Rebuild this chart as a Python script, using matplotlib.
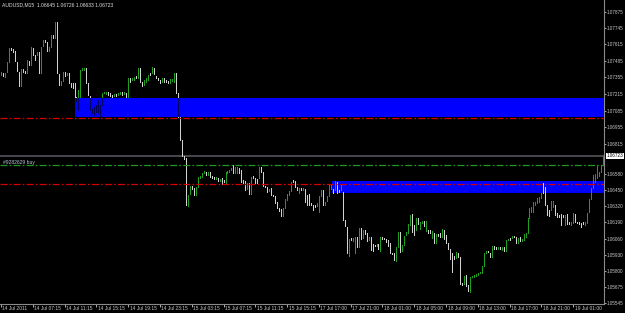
import numpy as np
import matplotlib
matplotlib.use("Agg")
import matplotlib.pyplot as plt
import matplotlib.transforms as mtransforms
from matplotlib.collections import LineCollection
from matplotlib.patches import Rectangle

plt.rcParams["font.family"] = ["Liberation Sans", "DejaVu Sans"]
plt.rcParams["lines.scale_dashes"] = False

# ---------------- data ----------------
chart_title = "AUDUSD,M15  1.06645 1.06726 1.06633 1.06723"

high = [
    1.07395, 1.07387, 1.07387, 1.07475, 1.07587, 1.07587, 1.07579, 1.07563, 1.07475, 1.07395,
    1.07419, 1.07419, 1.07403, 1.07491, 1.07483, 1.07595, 1.07587, 1.07531, 1.07555, 1.07555,
    1.07595, 1.07651, 1.07651, 1.07635, 1.07595, 1.07691, 1.07691, 1.07795, 1.07795, 1.07379,
    1.07323, 1.07395, 1.07395, 1.07387, 1.07387, 1.07307, 1.07307, 1.07307, 1.07195, 1.07251,
    1.07411, 1.07427, 1.07427, 1.07427, 1.07307, 1.07203, 1.07099, 1.07115, 1.07131, 1.07171,
    1.07131, 1.07227, 1.07235, 1.07235, 1.07235, 1.07227, 1.07211, 1.07219, 1.07219, 1.07227,
    1.07235, 1.07235, 1.07235, 1.07227, 1.07347, 1.07347, 1.07347, 1.07355, 1.07363, 1.07427,
    1.07427, 1.07315, 1.07331, 1.07347, 1.07371, 1.07387, 1.07435, 1.07427, 1.07363, 1.07347,
    1.07331, 1.07347, 1.07347, 1.07331, 1.07323, 1.07339, 1.07339, 1.07387, 1.07387, 1.07227,
    1.07035, 1.06851, 1.06723, 1.06707, 1.06411, 1.06483, 1.06483, 1.06467, 1.06475, 1.06555,
    1.06563, 1.06587, 1.06603, 1.06595, 1.06595, 1.06595, 1.06563, 1.06555, 1.06555,
    1.06547, 1.06539, 1.06547, 1.06531, 1.06595, 1.06603, 1.06611, 1.06627, 1.06651, 1.06635, 1.06635,
    1.06627, 1.06611, 1.06531, 1.06523, 1.06507, 1.06507, 1.06555, 1.06563, 1.06547, 1.06539,
    1.06635, 1.06635, 1.06595, 1.06483, 1.06475, 1.06459, 1.06467, 1.06411, 1.06403, 1.06355,
    1.06307, 1.06299, 1.06307, 1.06379, 1.06419, 1.06443, 1.06515, 1.06531, 1.06523, 1.06475,
    1.06467, 1.06467, 1.06467,
    1.06459, 1.06411, 1.06419, 1.06347, 1.06331, 1.06331, 1.06347, 1.06403, 1.06451, 1.06451,
    1.06355, 1.06403, 1.06491, 1.06491, 1.06459, 1.06523, 1.06515, 1.06451, 1.06491, 1.06435,
    1.06211, 1.06155, 1.06059, 1.06067, 1.06067, 1.06075, 1.06075, 1.06147, 1.06147, 1.06131,
    1.06131, 1.06107, 1.06075, 1.06075, 1.06019, 1.06011, 1.06019,
    1.06019, 1.06075, 1.06075, 1.06067, 1.06059, 1.06051, 1.06027, 1.05947, 1.05947, 1.05995,
    1.06115, 1.06115, 1.06011, 1.06083, 1.06115, 1.06179, 1.06251, 1.06259, 1.06171, 1.06227,
    1.06227, 1.06195, 1.06203, 1.06203, 1.06203, 1.06131, 1.06131, 1.06123, 1.06107, 1.06099,
    1.06099, 1.06107, 1.06139, 1.06131, 1.06091, 1.06027, 1.05979, 1.05947, 1.05923, 1.05955,
    1.05947, 1.05915, 1.05707, 1.05763, 1.05771, 1.05691, 1.05755, 1.05763, 1.05771, 1.05779,
    1.05787, 1.05795, 1.05843, 1.05947, 1.05963, 1.05963, 1.05947, 1.06003, 1.06003, 1.05995,
    1.05995, 1.05995, 1.05995, 1.05995, 1.06051, 1.06059, 1.06067, 1.06083, 1.06083, 1.06075,
    1.06067, 1.06075, 1.06059, 1.06099, 1.06107, 1.06227, 1.06307, 1.06315, 1.06355, 1.06355,
    1.06387, 1.06395, 1.06427, 1.06507, 1.06475, 1.06331, 1.06291, 1.06363, 1.06363, 1.06331,
    1.06267, 1.06251, 1.06259, 1.06251, 1.06251, 1.06259, 1.06195, 1.06195, 1.06267, 1.06259,
    1.06195, 1.06195, 1.06187, 1.06195, 1.06195, 1.06267, 1.06379, 1.06467, 1.06571, 1.06579,
    1.06643, 1.06595, 1.06651, 1.06723,
]

low = [
    1.07371, 1.07363, 1.07355, 1.07395, 1.07475, 1.07571, 1.07555, 1.07483, 1.07403, 1.07283,
    1.07283, 1.07395, 1.07387, 1.07387, 1.07451, 1.07451, 1.07531, 1.07491, 1.07531, 1.07387,
    1.07387, 1.07603, 1.07635, 1.07563, 1.07563, 1.07595, 1.07667, 1.07667, 1.07387, 1.07291,
    1.07291, 1.07323, 1.07363, 1.07371, 1.07307, 1.07275, 1.07267, 1.07195, 1.07163, 1.07091,
    1.07195, 1.07411, 1.07411, 1.07307, 1.07211, 1.07091, 1.07067, 1.07051, 1.07075, 1.07067,
    1.07043, 1.07131, 1.07227, 1.07219, 1.07211, 1.07203, 1.07195, 1.07203, 1.07203, 1.07211,
    1.07219, 1.07211, 1.07219, 1.07195, 1.07195, 1.07315, 1.07331, 1.07331, 1.07347, 1.07347,
    1.07315, 1.07283, 1.07291, 1.07315, 1.07331, 1.07371, 1.07387, 1.07379, 1.07347, 1.07331,
    1.07307, 1.07315, 1.07315, 1.07315, 1.07307, 1.07307, 1.07323, 1.07315, 1.07227, 1.07035,
    1.06851, 1.06723, 1.06699, 1.06331, 1.06323, 1.06419, 1.06459, 1.06411, 1.06411, 1.06475,
    1.06547, 1.06555, 1.06587, 1.06571, 1.06571, 1.06555, 1.06547, 1.06539, 1.06539,
    1.06523, 1.06523, 1.06499, 1.06515, 1.06507, 1.06587, 1.06595, 1.06611, 1.06587, 1.06587, 1.06587,
    1.06587, 1.06515, 1.06507, 1.06451, 1.06459, 1.06419, 1.06419, 1.06547, 1.06507, 1.06507,
    1.06547, 1.06595, 1.06483, 1.06475, 1.06435, 1.06443, 1.06411, 1.06403, 1.06347, 1.06307,
    1.06283, 1.06243, 1.06243, 1.06307, 1.06371, 1.06411, 1.06443, 1.06515, 1.06475, 1.06451,
    1.06427, 1.06451, 1.06451,
    1.06355, 1.06331, 1.06331, 1.06331, 1.06291, 1.06315, 1.06323, 1.06275, 1.06403, 1.06331,
    1.06331, 1.06363, 1.06403, 1.06459, 1.06427, 1.06451, 1.06427, 1.06435, 1.06451, 1.06211,
    1.06163, 1.05947, 1.05923, 1.06051, 1.06043, 1.05947, 1.05995, 1.05995, 1.06059, 1.06067,
    1.06099, 1.06043, 1.06051, 1.05971, 1.05963, 1.06003, 1.06003,
    1.05979, 1.05963, 1.06059, 1.06059, 1.06035, 1.06003, 1.05947, 1.05939, 1.05891, 1.05883,
    1.05995, 1.05955, 1.05963, 1.06011, 1.06091, 1.06107, 1.06171, 1.06115, 1.06091, 1.06131,
    1.06179, 1.06139, 1.06187, 1.06163, 1.06123, 1.06107, 1.06107, 1.06067, 1.06027, 1.06027,
    1.06083, 1.06075, 1.06075, 1.06059, 1.06027, 1.05979, 1.05899, 1.05795, 1.05899, 1.05907,
    1.05915, 1.05699, 1.05691, 1.05699, 1.05683, 1.05643, 1.05635, 1.05755, 1.05755, 1.05763,
    1.05771, 1.05787, 1.05787, 1.05843, 1.05947, 1.05955, 1.05915, 1.05915, 1.05979, 1.05979,
    1.05979, 1.05979, 1.05971, 1.05963, 1.05963, 1.06051, 1.06051, 1.06067, 1.06075, 1.06027,
    1.06027, 1.06043, 1.06043, 1.06051, 1.06075, 1.06107, 1.06227, 1.06275, 1.06275, 1.06331,
    1.06347, 1.06355, 1.06387, 1.06427, 1.06331, 1.06251, 1.06243, 1.06291, 1.06315, 1.06251,
    1.06235, 1.06235, 1.06171, 1.06235, 1.06171, 1.06179, 1.06179, 1.06171, 1.06187, 1.06195,
    1.06187, 1.06179, 1.06155, 1.06179, 1.06171, 1.06187, 1.06275, 1.06379, 1.06467, 1.06515,
    1.06547, 1.06563, 1.06595, 1.06651,
]

# u = bullish (close > open), d = bearish
direction = (
    "uduuuddddd" "uddududdud" "uudduududd" "uududddddu" "uuuddddddd"
    "uuuudddudu" "udududuudu" "dduuududdd" "duddduuudd" "dddduudduu"
    "uuududddu" "dudduuuuduu" "ddddududdd" "uddddudddd" "dduuuuuddd"
    "udu" "dddddduuud" "uuuududdud" "dduduududu" "ddudddu"
    "dudddddddu" "uduuuuuddu" "duududdudu" "dduddddddu" "dddudduuuu"
    "uuuuuddudd" "ududuududd" "uduuuuuuuu" "uuudddduud" "ddddudduud"
    "dddduuuuuu" "uuuu"
)

time_labels = [
    "14 Jul 2011", "14 Jul 07:15", "14 Jul 11:15", "14 Jul 15:15", "14 Jul 19:15",
    "14 Jul 23:15", "15 Jul 03:15", "15 Jul 07:15", "15 Jul 11:15", "15 Jul 15:15",
    "17 Jul 17:00", "17 Jul 21:00", "18 Jul 01:00", "18 Jul 05:00", "18 Jul 09:00",
    "18 Jul 13:00", "18 Jul 17:00", "18 Jul 21:00", "19 Jul 01:00",
]
bars_per_label = 16

price_ticks = [1.07875, 1.07745, 1.07615, 1.07485, 1.07355, 1.07215, 1.07085,
               1.06955, 1.06815, 1.06580, 1.06450, 1.06320, 1.06190, 1.06060,
               1.05930, 1.05800, 1.05675, 1.05545]

last_price = 1.06723
order_label = "#9282629 buy"
order_price = 1.06650
red_levels = [1.07027, 1.06499]
zone_start = [37.4, 166.4]
zone_top = [1.07187, 1.06525]
zone_bottom = [1.07035, 1.06429]

# ---------------- drawing ----------------
n = min(len(high), len(low), len(direction))
W, H = 625, 313
fig = plt.figure(figsize=(W / 100, H / 100), dpi=100)
fig.patch.set_facecolor("black")
ax = fig.add_axes([0, 9 / H, 604 / W, 304 / H])
ax.set_facecolor("black")
ax.set_xlim(-0.5, n - 0.5)
ax.set_ylim(1.05537, 1.07971)

up_col = "#1ea01e"
dn_col = "#d2d2d2"
LW = 0.62
segs = [[(i, low[i]), (i, high[i])] for i in range(n)]
cols = [up_col if direction[i] == "u" else dn_col for i in range(n)]
bars = LineCollection(segs, colors=cols, linewidths=LW, antialiased=False, zorder=3)
ax.add_collection(bars)

# zone 1 drawn over the bars, bars appear dark inside it
r1 = Rectangle((zone_start[0], zone_bottom[0]), n + 5 - zone_start[0],
               zone_top[0] - zone_bottom[0], facecolor="#0000ff", edgecolor="none", zorder=4)
ax.add_patch(r1)
dark = LineCollection(segs, colors="#000060", linewidths=LW, antialiased=False, zorder=5)
ax.add_collection(dark)
dark.set_clip_path(r1)

# zone 2 behind the bars
r2 = Rectangle((zone_start[1], zone_bottom[1]), n + 5 - zone_start[1],
               zone_top[1] - zone_bottom[1], facecolor="#0000ff", edgecolor="none", zorder=2)
ax.add_patch(r2)

dashdot = (0, (5.0, 1.6, 1.2, 1.6))
for lv in red_levels:
    ax.axhline(lv, color="#d40000", lw=0.9, ls=dashdot, zorder=6)
ax.axhline(order_price, color="#1e9a1e", lw=0.9, ls=dashdot, zorder=6)
ax.axhline(last_price, color="#4c4e52", lw=1.3, zorder=1)

ax.text(0.005, order_price, order_label, transform=mtransforms.blended_transform_factory(ax.transAxes, ax.transData),
        fontsize=3.6, color="#b8c4d8", ha="left", va="bottom", zorder=7)

# axes styling
for s in ["left", "top"]:
    ax.spines[s].set_visible(False)
for s in ["right", "bottom"]:
    ax.spines[s].set_color("#8a8a8a")
    ax.spines[s].set_linewidth(0.8)

ax.yaxis.tick_right()
ax.set_yticks(price_ticks)
ax.set_yticklabels([f"{p:.5f}" for p in price_ticks])
ax.tick_params(axis="y", colors="#c8c8c8", labelsize=3.35, length=1.2, width=0.6, pad=0.5)

xt = [k * bars_per_label for k in range(len(time_labels))]
ax.set_xticks(xt)
ax.set_xticklabels([])
ax.tick_params(axis="x", colors="#c8c8c8", length=2, width=0.6)
trans = mtransforms.blended_transform_factory(ax.transData, ax.transAxes)
toff = mtransforms.offset_copy(trans, fig=fig, x=1.5, y=-1.5, units="dots")
for pos, lab in zip(xt, time_labels):
    ax.text(pos, 0, lab, transform=toff, ha="left", va="top", fontsize=3.5, color="#c8c8c8")

# current price box
ax.text(1.004, last_price, f"{last_price:.5f}",
        transform=mtransforms.blended_transform_factory(ax.transAxes, ax.transData),
        fontsize=3.35, color="black", ha="left", va="center", clip_on=False, zorder=10,
        bbox=dict(boxstyle="square,pad=0.15", facecolor="white", edgecolor="none"))

fig.text(2 / W, 1 - 4.5 / H, chart_title, fontsize=3.6, color="#e0e0e0", ha="left", va="center")

fig.savefig("out.png", dpi=100, facecolor="black")
